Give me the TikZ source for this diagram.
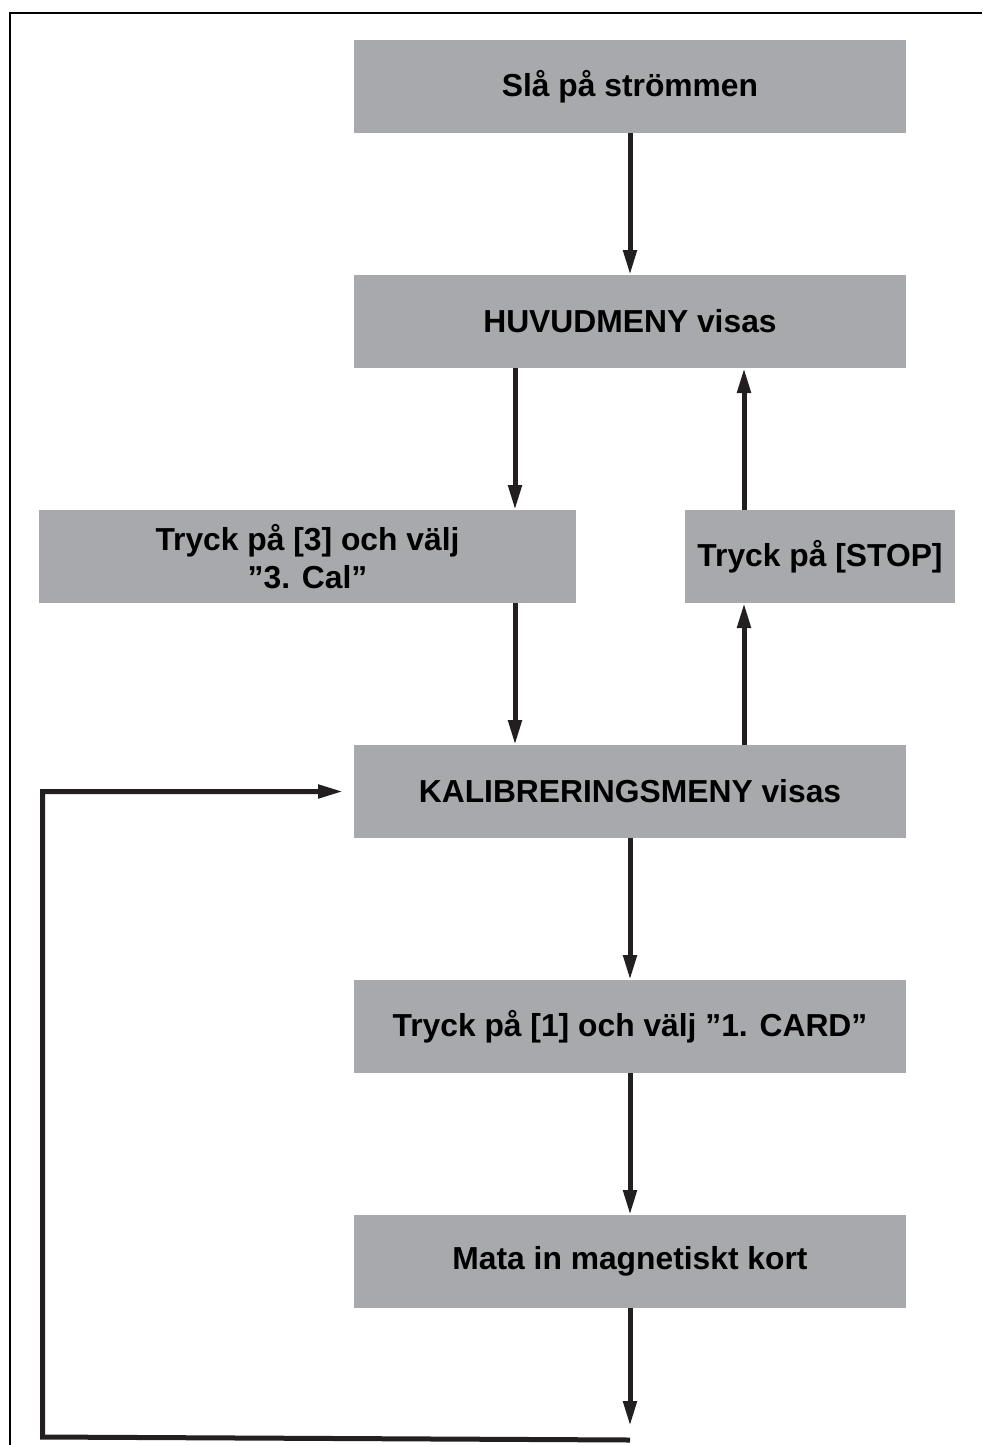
\documentclass[tikz,border=0pt]{standalone}
\usepackage{fontspec}
\setmainfont{Liberation Sans}
\usepackage{xcolor}
\usetikzlibrary{arrows.meta,positioning,calc}
\definecolor{boxgray}{HTML}{A7A9AC}
\definecolor{linedark}{HTML}{231F20}
\tikzset{
  flow/.style={fill=boxgray, align=center, minimum width=276pt,
               minimum height=46.5pt, inner sep=2pt, outer sep=0pt,
               font=\fontsize{15.9pt}{19pt}\selectfont\bfseries},
  flowarrow/.style={-{Triangle[length=12.5pt, width=6.5pt]}, line width=2.5pt, draw=linedark},
  flowline/.style={line width=2.5pt, draw=linedark},
  frameline/.style={line width=1pt, draw=black}
}
\begin{document}
\begin{tikzpicture}[node distance=71pt]
\useasboundingbox (0,0) rectangle (491pt,-722.5pt);
\draw[frameline] (491pt,-6.5pt) -- (5pt,-6.5pt) -- (5pt,-722.5pt);

\node[flow] (start) at (315pt,-43.25pt) {Slå på strömmen};
\node[flow, below=of start] (menu) {HUVUDMENY visas};
\node[flow, below=of menu, xshift=-161.25pt, minimum width=268.5pt] (cal) {Tryck på [3] och välj\\”3. Cal”};
\node[flow, below=of menu, xshift=95pt, minimum width=135pt] (stop) {Tryck på [STOP]};
\node[flow, below=of cal, xshift=161.25pt] (kal) {KALIBRERINGSMENY visas};
\node[flow, below=of kal] (card) {Tryck på [1] och välj ”1. CARD”};
\node[flow, below=of card] (mata) {Mata in magnetiskt kort};

\coordinate (tip) at ($(mata.south)+(0,-59pt)$);
\coordinate (loopr) at ($(mata.south)+(0,-66pt)$);
\coordinate (loopl) at (21.25pt,-718.5pt);

\draw[flowarrow] (start) -- (menu);
\draw[flowarrow] ([xshift=-57.5pt]menu.south) -- ([xshift=-57.5pt]menu.south |- cal.north);
\draw[flowarrow] ([xshift=-57.5pt]kal.north |- cal.south) -- ([xshift=-57.5pt]kal.north);
\draw[flowarrow] ([xshift=57pt]kal.north) -- ([xshift=57pt]kal.north |- stop.south);
\draw[flowarrow] ([xshift=57pt]menu.south |- stop.north) -- ([xshift=57pt]menu.south);
\draw[flowarrow] (kal) -- (card);
\draw[flowarrow] (card) -- (mata);
\draw[flowarrow] (mata) -- (tip);
\draw[flowarrow] (loopr) -- (loopl) |- ([xshift=-5.5pt]kal.west);
\end{tikzpicture}
\end{document}
